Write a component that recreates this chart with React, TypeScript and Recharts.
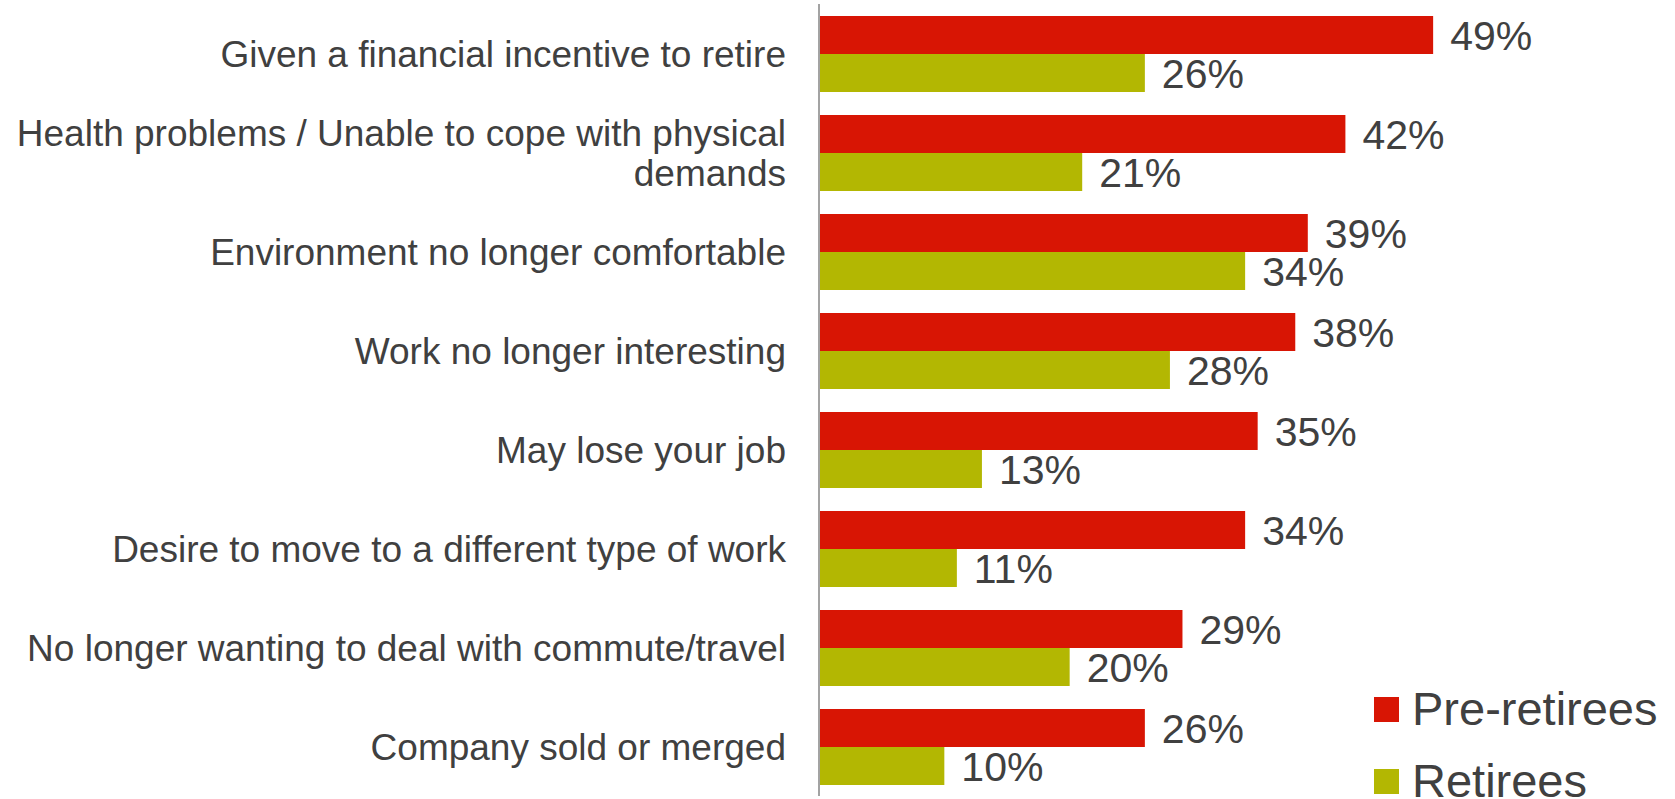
import React from "react";
import { BarChart, Bar, XAxis, YAxis, LabelList, Legend } from "recharts";

const categories = [
  "Given a financial incentive to retire",
  "Health problems / Unable to cope with physical\ndemands",
  "Environment no longer comfortable",
  "Work no longer interesting",
  "May lose your job",
  "Desire to move to a different type of work",
  "No longer wanting to deal with commute/travel",
  "Company sold or merged",
];
const preRetirees = [49, 42, 39, 38, 35, 34, 29, 26];
const retirees = [26, 21, 34, 28, 13, 11, 20, 10];
const seriesNames = ["Pre-retirees", "Retirees"];
const seriesColors = ["#d81504", "#b3b702"];

const data = categories.map((c, i) => ({ name: c, pre: preRetirees[i], ret: retirees[i] }));

const FONT = '"Liberation Sans", Arial, sans-serif';
const TEXT = "#404040";

const CatTick = (props: any) => {
  const { x, y, payload } = props;
  const lines = String(payload.value).split("\n");
  const lh = 40;
  return (
    <text x={x} y={y} textAnchor="end" fontFamily={FONT} fontSize={37} fill={TEXT}>
      {lines.map((l, i) => (
        <tspan key={i} x={x} y={y + (i - (lines.length - 1) / 2) * lh + 13}>
          {l}
        </tspan>
      ))}
    </text>
  );
};

const CustomLegend = () => (
  <div style={{ fontFamily: FONT }}>
    {seriesNames.map((n, i) => (
      <div key={n} style={{ display: "flex", alignItems: "center", height: 72 }}>
        <div style={{ width: 25, height: 25, background: seriesColors[i], marginRight: 13 }} />
        <span style={{ fontSize: 47, lineHeight: "72px", color: TEXT }}>{n}</span>
      </div>
    ))}
  </div>
);

export default function App() {
  return (
    <div style={{ position: "absolute", left: 0, top: 0, background: "#fff" }}>
      <BarChart
        width={1675}
        height={799}
        data={data}
        layout="vertical"
        margin={{ top: 4, right: 104, bottom: 3, left: 0 }}
        barSize={38}
        barGap={0}
      >
        <XAxis type="number" domain={[0, 60]} hide />
        <YAxis
          type="category"
          dataKey="name"
          width={819}
          tickLine={false}
          tickSize={0}
          tickMargin={33}
          axisLine={{ stroke: "#a3a3a3", strokeWidth: 2 }}
          tick={<CatTick />}
          interval={0}
        />
        <Legend
          layout="vertical"
          align="center"
          verticalAlign="middle"
          content={() => <CustomLegend />}
          wrapperStyle={{ left: 1374, top: 673, width: 300, height: 150 }}
        />
        <Bar dataKey="pre" name={seriesNames[0]} fill={seriesColors[0]} isAnimationActive={false}>
          <LabelList
            dataKey="pre"
            position="right"
            offset={17}
            formatter={(v: any) => `${v}%`}
            style={{ fontFamily: FONT, fontSize: 41, fill: TEXT }}
          />
        </Bar>
        <Bar dataKey="ret" name={seriesNames[1]} fill={seriesColors[1]} isAnimationActive={false}>
          <LabelList
            dataKey="ret"
            position="right"
            offset={17}
            formatter={(v: any) => `${v}%`}
            style={{ fontFamily: FONT, fontSize: 41, fill: TEXT }}
          />
        </Bar>
      </BarChart>
    </div>
  );
}
